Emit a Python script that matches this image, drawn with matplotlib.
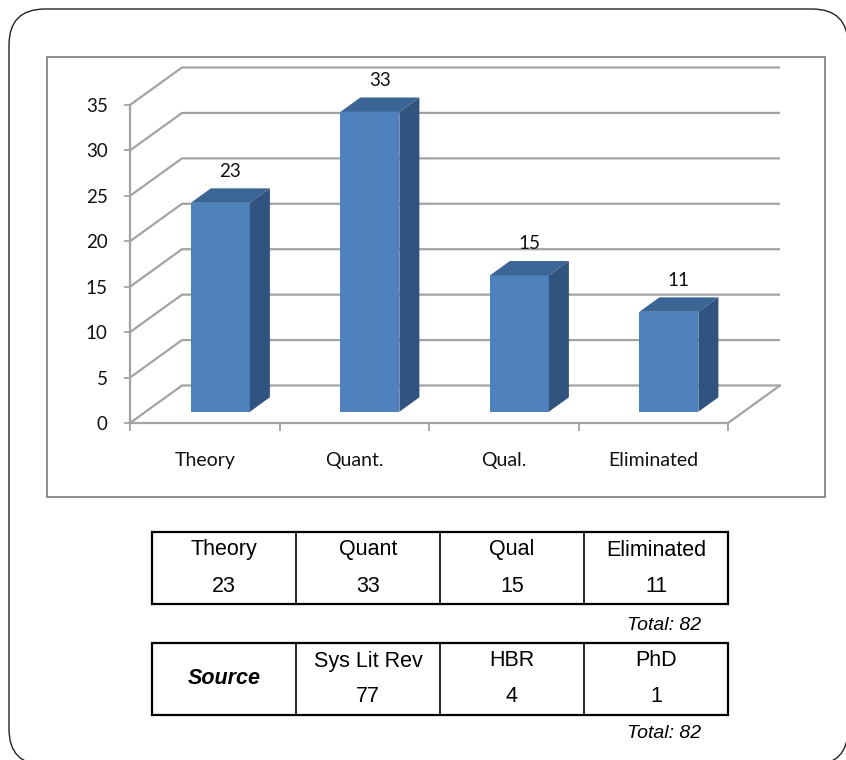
import matplotlib
matplotlib.use("Agg")
import matplotlib.pyplot as plt
from matplotlib.patches import Polygon, FancyBboxPatch, Rectangle

# ---- data -------------------------------------------------------------
categories = ["Theory", "Quant.", "Qual.", "Eliminated"]
counts = [23, 33, 15, 11]
y_ticks = [0, 5, 10, 15, 20, 25, 30, 35]

table_headers = ["Theory", "Quant", "Qual", "Eliminated"]
table_counts = [23, 33, 15, 11]
source_label = "Source"
source_names = ["Sys Lit Rev", "HBR", "PhD"]
source_counts = [77, 4, 1]

# ---- figure -----------------------------------------------------------
W, H = 846, 760
fig = plt.figure(figsize=(W / 100, H / 100), dpi=100)

CHART_FONT = ["Lato", "DejaVu Sans"]
TABLE_FONT = ["Liberation Sans", "DejaVu Sans"]

# pixel-unit overlay for the panel, frame and tables
frame = fig.add_axes([0, 0, 1, 1])
frame.set_xlim(0, W)
frame.set_ylim(H, 0)
frame.axis("off")

panel = FancyBboxPatch((9, 9), 839, 756,
                       boxstyle="round,pad=0,rounding_size=36",
                       facecolor="white", edgecolor="#222222", lw=1.0)
frame.add_patch(panel)
frame.add_patch(Rectangle((47, 57), 778, 440, facecolor="white",
                          edgecolor="#8c8c8c", lw=1.4))

# ---- pseudo-3D column chart ------------------------------------------
px_left, px_right, px_top, px_bottom = 130, 728, 105, 423
ax = fig.add_axes([px_left / W, (H - px_bottom) / H,
                   (px_right - px_left) / W, (px_bottom - px_top) / H])
n = len(categories)
ax.set_xlim(0, n)
ax.set_ylim(0, y_ticks[-1])
ax.patch.set_alpha(0)

x_per_px = n / (px_right - px_left)
y_per_px = y_ticks[-1] / (px_bottom - px_top)
DX = 52 * x_per_px        # depth offset, x units
DY = 37.5 * y_per_px      # depth offset, value units

grid_c = "#a3a3a3"
for v in y_ticks:
    ax.plot([0, DX, n + DX], [v, v + DY, v + DY], color=grid_c, lw=1.6,
            clip_on=False, zorder=1, solid_capstyle="butt")
ax.plot([n, n + DX], [0, DY], color=grid_c, lw=1.6, clip_on=False, zorder=1)

for side in ("top", "right"):
    ax.spines[side].set_visible(False)
for side in ("left", "bottom"):
    ax.spines[side].set_color(grid_c)
    ax.spines[side].set_linewidth(1.6)

ax.set_yticks(y_ticks)
ax.set_yticklabels([str(v) for v in y_ticks])
ax.set_xticks(range(n + 1))
ax.set_xticklabels([])
ax.set_xticks([i + 0.5 for i in range(n)], minor=True)
ax.set_xticklabels(categories, minor=True)
ax.tick_params(axis="y", direction="out", length=4, width=1.3, color=grid_c,
               pad=12, labelsize=13.5)
ax.tick_params(axis="x", which="major", direction="out", length=6,
               width=1.3, color=grid_c)
ax.tick_params(axis="x", which="minor", length=0, pad=21, labelsize=14)
for lab in ax.get_yticklabels() + ax.get_xticklabels(minor=True):
    lab.set_family(CHART_FONT)
    lab.set_color("#111111")

front_c, top_c, side_c = "#4f81bd", "#3b6595", "#31537f"
f0, fd, bw = 0.30, 0.385, 0.395
xs = [i + 0.5 - bw / 2 + DX * f0 for i in range(n)]
ax.bar(xs, counts, width=bw, bottom=DY * f0, align="edge",
       color=front_c, zorder=3, clip_on=False)
ddx, ddy = DX * fd, DY * fd
for xl, v in zip(xs, counts):
    xr = xl + bw
    b, t = DY * f0, v + DY * f0
    ax.add_patch(Polygon([(xl, t), (xr, t), (xr + ddx, t + ddy),
                          (xl + ddx, t + ddy)], closed=True,
                         facecolor=top_c, edgecolor="none", zorder=3,
                         clip_on=False))
    ax.add_patch(Polygon([(xr, b), (xr + ddx, b + ddy), (xr + ddx, t + ddy),
                          (xr, t)], closed=True, facecolor=side_c,
                         edgecolor="none", zorder=3, clip_on=False))
    ax.annotate(str(v), xy=(xl + bw / 2 + ddx / 2, t + ddy / 2),
                xytext=(0, 17.5), textcoords="offset points", ha="center",
                va="center", fontsize=13.5, family=CHART_FONT,
                color="#111111", annotation_clip=False)

# ---- tables -------------------------------------------------------------
tx0, col_w = 152, 144
tfs = 15.5


def table_box(y0, y1, n_cols):
    frame.add_patch(Rectangle((tx0, y0), col_w * n_cols, y1 - y0,
                              facecolor="none", edgecolor="black", lw=1.6))
    for k in range(1, n_cols):
        frame.plot([tx0 + k * col_w] * 2, [y0, y1], color="black", lw=1.2)


# categories table
t1_top, t1_bot = 532, 604
table_box(t1_top, t1_bot, len(table_headers))
for k, (hd, c) in enumerate(zip(table_headers, table_counts)):
    cx = tx0 + (k + 0.5) * col_w
    frame.text(cx, 550, hd, ha="center", va="center", fontsize=tfs,
               family=TABLE_FONT)
    frame.text(cx, 586, str(c), ha="center", va="center", fontsize=tfs,
               family=TABLE_FONT)
frame.text(701, 626, f"Total: {sum(table_counts)}", ha="right",
           va="center", fontsize=14, style="italic", family=TABLE_FONT)

# sources table
t2_top, t2_bot = 643, 715
table_box(t2_top, t2_bot, len(source_names) + 1)
frame.text(tx0 + col_w / 2, (t2_top + t2_bot) / 2, source_label,
           ha="center", va="center", fontsize=tfs, style="italic",
           weight="bold", family=TABLE_FONT)
for k, (nm, c) in enumerate(zip(source_names, source_counts)):
    cx = tx0 + (k + 1.5) * col_w
    frame.text(cx, 661, nm, ha="center", va="center", fontsize=tfs,
               family=TABLE_FONT)
    frame.text(cx, 697, str(c), ha="center", va="center", fontsize=tfs,
               family=TABLE_FONT)
frame.text(701, 733, f"Total: {sum(source_counts)}", ha="right",
           va="center", fontsize=14, style="italic", family=TABLE_FONT)

fig.savefig("out.png", dpi=100)
